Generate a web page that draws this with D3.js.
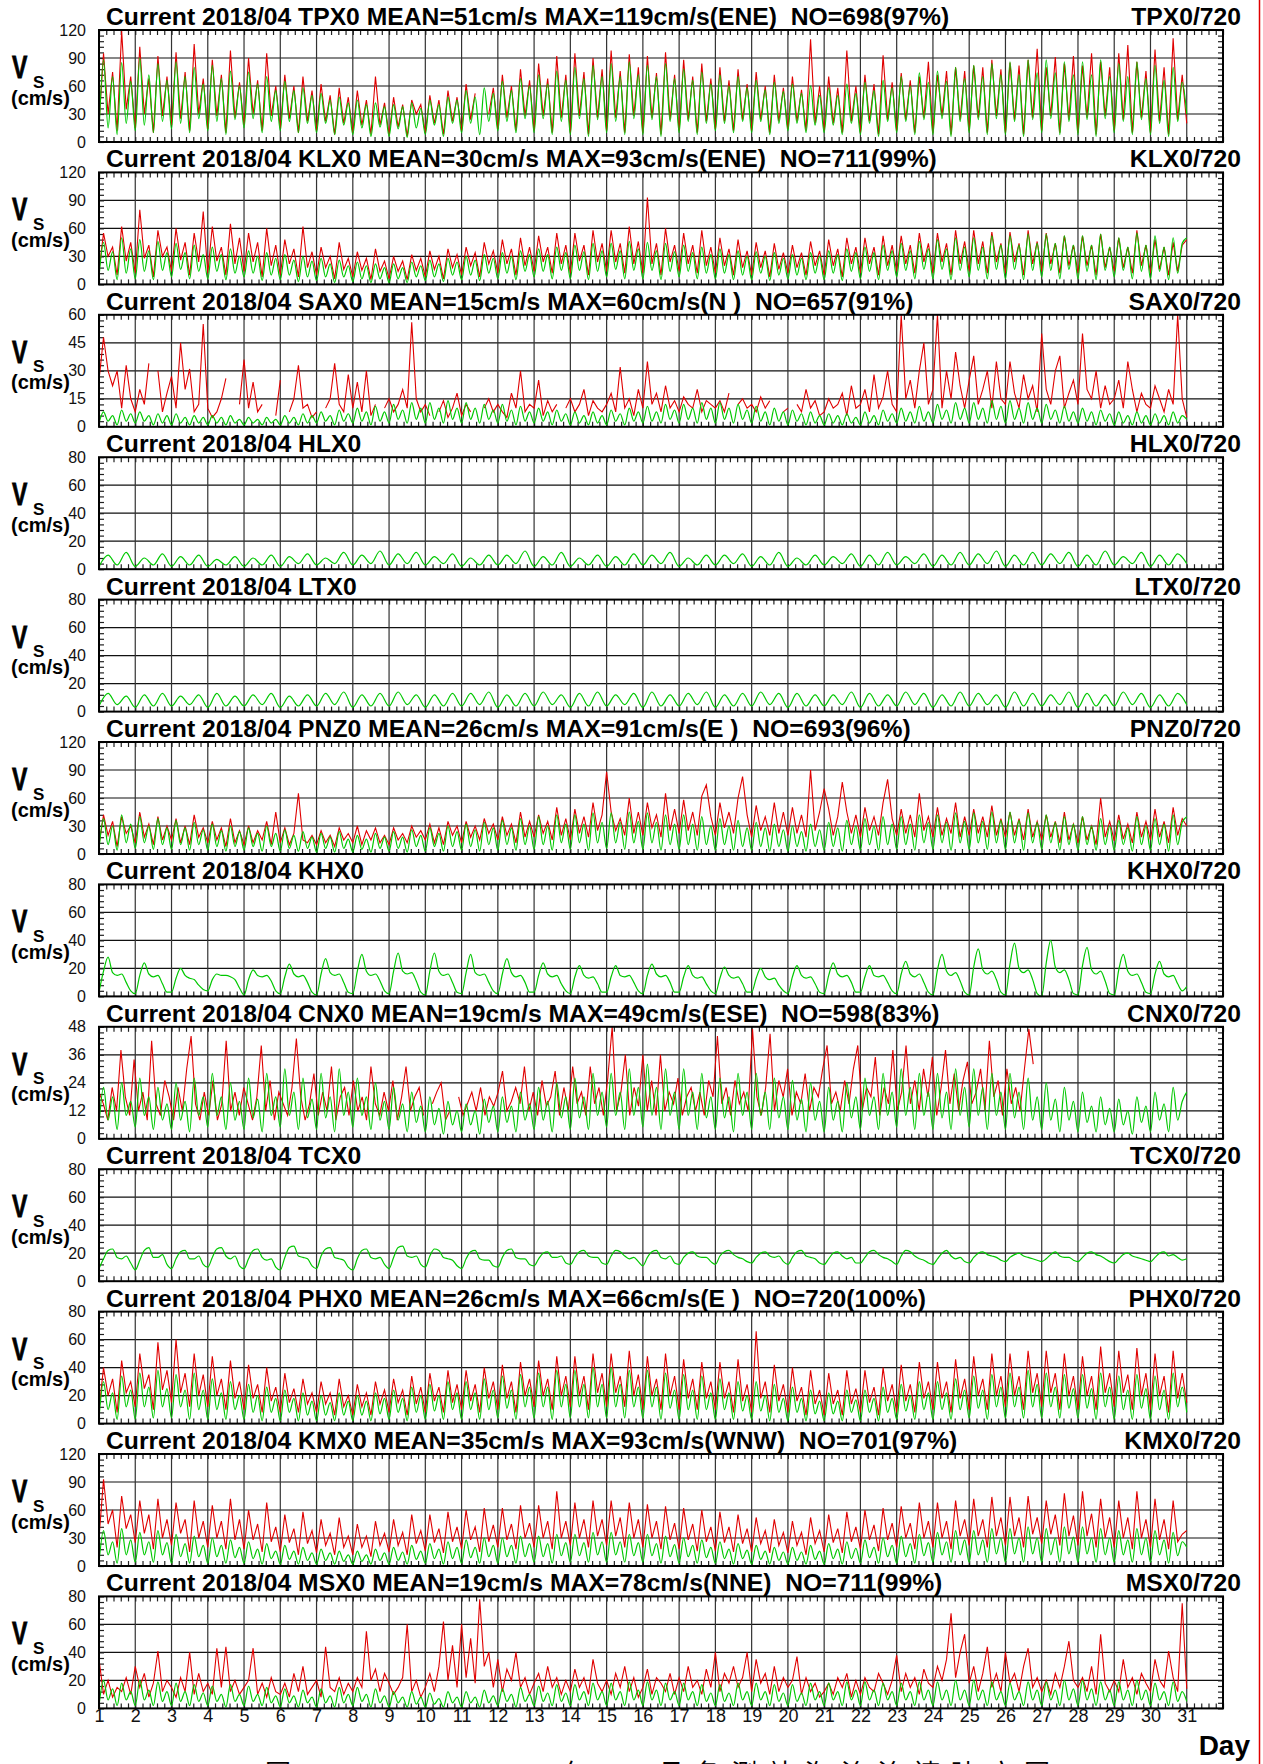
<!DOCTYPE html>
<html>
<head>
<meta charset="utf-8">
<script src="https://cdn.jsdelivr.net/npm/d3@7"></script>
<style>
  body { margin: 0; background: #fff; }
  svg { display: block; font-family: "Liberation Sans", Arial, sans-serif; }
</style>
</head>
<body>
<script>
// CURRENT SPEED TIME SERIES, 2018/04
var days = d3.range(1, 32);
var stations = ["TPX0", "KLX0", "SAX0", "HLX0", "LTX0", "PNZ0", "KHX0", "CNX0", "TCX0", "PHX0", "KMX0", "MSX0"];
var yMax = [120, 120, 60, 80, 80, 120, 80, 48, 80, 80, 120, 80];
var stats = [
  "MEAN=51cm/s MAX=119cm/s(ENE)  NO=698(97%)",
  "MEAN=30cm/s MAX=93cm/s(ENE)  NO=711(99%)",
  "MEAN=15cm/s MAX=60cm/s(N )  NO=657(91%)",
  "",
  "",
  "MEAN=26cm/s MAX=91cm/s(E )  NO=693(96%)",
  "",
  "MEAN=19cm/s MAX=49cm/s(ESE)  NO=598(83%)",
  "",
  "MEAN=26cm/s MAX=66cm/s(E )  NO=720(100%)",
  "MEAN=35cm/s MAX=93cm/s(WNW)  NO=701(97%)",
  "MEAN=19cm/s MAX=78cm/s(NNE)  NO=711(99%)"
];

// 3-hourly values from day 1 to day 31 (green = predicted, red = observed)
var tpxGreen = [
  10,88,15,70,8,85,20,65, 12,90,18,72,10,84,22,66, 14,86,20,70,10,80,25,62, 12,82,22,68,8,76,24,60,
  15,75,25,62,10,70,22,55, 12,65,22,55,10,58,20,50, 10,52,20,45,8,48,18,42, 8,45,15,40,6,42,16,38,
  6,40,14,38,5,42,15,36, 8,45,18,40,6,48,20,45, 10,55,20,48,8,58,22,52, 12,65,22,55,10,68,25,60,
  10,72,25,62,8,76,22,66, 8,80,25,68,6,82,24,70, 10,84,22,70,8,86,25,72, 8,82,24,70,6,84,22,68,
  10,78,22,66,8,75,20,62, 12,72,20,60,10,70,22,58, 10,66,22,56,8,64,20,54, 12,62,20,52,10,60,18,50,
  10,58,18,50,8,62,20,52, 8,64,20,55,6,66,22,58, 10,70,22,60,8,74,24,64, 8,76,25,65,6,80,22,68,
  10,82,24,70,8,84,25,72, 8,86,22,72,6,88,24,74, 10,88,25,74,8,86,22,72, 8,86,24,72,6,88,25,70,
  10,84,22,70,8,86,24,68, 8,82,20,66,6,80,22,64, 30];
var tpxRed = [
  20,95,30,75,12,119,35,70, 15,102,30,68,10,92,28,70, 18,96,25,75,12,105,30,68, 14,88,28,72,10,98,26,64,
  18,90,30,66,12,95,28,60, 15,72,25,60,10,70,22,55, 12,62,22,50,8,58,20,48, 10,55,18,45,8,70,18,42,
  8,48,16,40,6,45,30,40, 10,50,20,45,8,55,22,48, 12,62,24,52,null,null,30,58, 14,72,26,60,12,78,28,66,
  12,84,28,68,10,92,26,72, 10,95,28,75,8,90,26,78, 12,98,26,76,10,94,28,80, 10,92,26,74,8,96,24,72,
  12,88,24,70,10,84,22,68, 14,80,22,66,12,78,24,62, 12,75,24,60,10,72,22,58, 14,70,22,56,12,110,20,60,
  12,70,20,58,10,98,22,60, 10,72,22,62,8,93,24,64, 12,74,24,66,10,70,26,86, 10,72,28,76,8,80,24,76,
  12,82,26,80,10,88,28,78, 10,85,24,82,8,88,26,100, 12,80,28,91,10,84,24,92, 10,82,26,95,8,86,28,80,
  12,95,24,104,10,86,26,76, 10,99,22,80,8,111,24,72, 20];

var klxGreen = [
  8,45,15,35,5,50,12,38, 6,48,14,36,5,46,15,34, 8,44,16,34,6,42,14,32, 6,40,14,32,5,38,12,30,
  8,36,12,30,4,34,10,28, 5,32,10,26,3,30,8,25, 4,28,8,22,2,26,8,20, 3,24,6,20,2,22,6,18,
  2,22,6,18,2,24,8,20, 4,26,8,22,3,28,10,24, 5,30,10,26,4,32,12,28, 6,34,12,30,5,36,14,32,
  8,38,14,32,6,40,15,34, 6,42,15,35,5,44,14,36, 8,44,16,36,6,46,15,38, 6,45,15,36,5,44,14,35,
  8,42,14,34,6,40,12,32, 6,38,12,32,5,36,10,30, 5,35,12,30,4,34,10,28, 6,32,10,28,5,34,12,30,
  5,36,12,32,4,38,14,34, 6,40,14,34,5,42,15,36, 8,44,15,36,6,46,16,38, 6,48,16,38,5,50,15,40,
  8,50,15,40,6,52,16,42, 6,52,16,42,5,54,15,44, 8,54,15,44,6,52,16,42, 6,52,14,42,5,54,15,40,
  8,50,15,40,6,55,14,42, 6,52,14,40,5,50,12,44, 50];
var klxRed = [
  15,55,30,40,10,62,25,45, 12,80,28,42,8,58,30,40, 14,60,26,45,10,55,24,78, 12,62,25,40,10,65,22,50,
  14,55,24,45,8,60,20,42, 10,48,22,38,8,62,18,35, 10,40,18,30,6,45,16,28, 8,35,15,28,5,38,14,25,
  6,30,14,25,5,32,15,28, 8,36,16,30,6,38,18,32, 10,40,20,34,8,45,22,36, 12,48,22,38,10,50,20,40,
  14,52,24,40,12,55,22,42, 12,55,25,42,10,58,24,44, 14,58,24,44,12,62,22,46, 12,93,22,44,10,60,24,42,
  14,55,22,42,12,58,20,40, 12,50,20,38,10,48,18,36, 10,45,18,36,8,44,16,34, 12,42,18,34,10,46,20,36,
  10,48,20,38,8,50,22,40, 12,50,22,40,10,52,20,42, 14,52,22,42,12,55,24,44, 12,55,24,44,10,58,22,46,
  14,58,22,46,12,56,24,44, 12,56,24,44,10,58,22,46, 14,55,22,44,12,52,20,42, 12,52,20,42,10,54,18,40,
  14,50,18,40,12,58,20,42, 12,48,16,40,10,45,14,42, 48];

var saxGreen = [
  2,8,3,6,1,9,3,7, 2,8,3,6,1,7,2,6, 1,7,2,5,1,6,2,5, 1,6,2,5,1,6,2,4,
  1,5,2,4,1,5,2,4, 1,6,2,5,1,7,2,6, 2,8,3,6,1,9,3,7, 2,10,3,8,1,11,3,8,
  2,12,4,9,2,13,4,10, 2,13,4,10,2,14,4,10, 2,13,4,10,2,12,4,9, 2,12,3,9,1,11,3,8,
  2,10,3,8,1,9,3,7, 1,8,2,6,1,8,2,6, 1,9,3,7,1,10,3,8, 2,11,3,8,2,12,4,9,
  2,12,4,10,2,13,4,10, 2,13,4,10,2,12,4,9, 2,11,3,8,1,10,3,8, 1,9,3,7,1,8,2,6,
  1,7,2,6,1,7,2,5, 1,8,2,6,1,9,3,7, 2,10,3,8,2,11,3,8, 2,12,4,9,2,13,4,10,
  2,13,4,10,2,14,4,11, 2,14,4,10,2,13,4,10, 2,12,4,9,2,11,3,8, 2,10,3,8,1,9,3,7,
  1,8,2,6,1,8,2,6, 1,7,2,6,1,8,2,6, 4];
var saxRed = [
  25,48,30,22,30,10,33,15, 8,20,12,34,null,30,8,18, 27,10,45,20,31,8,12,55, 10,5,8,15,26,null,null,12,
  36,10,24,8,12,null,null,6, 25,null,8,15,33,10,12,5, 8,null,10,15,34,12,8,28, 10,24,8,30,6,12,null,10,
  15,8,12,20,10,56,15,8, 12,6,null,8,14,5,10,18, 6,12,8,null,null,10,15,8, 12,8,5,18,10,30,8,12,
  10,25,6,14,8,12,null,10, 15,8,12,20,6,14,10,8, 12,18,8,32,10,15,6,20, 10,35,12,18,8,22,10,14,
  8,16,12,10,20,8,14,12, 10,14,8,18,null,12,15,10, 12,8,16,10,14,null,null,8, 10,null,12,8,20,10,14,6,
  8,15,10,12,18,6,22,10, 12,20,8,28,10,16,30,12, 8,60,15,25,10,30,45,12, 20,60,10,30,15,40,22,10,
  25,38,12,20,30,10,35,15, 12,35,18,10,28,15,22,8, 50,20,12,30,38,10,18,25, 12,50,20,15,30,10,22,12,
  15,25,10,35,20,8,18,12, 10,22,15,8,20,12,60,15, 5];

// 6-hourly values
var hlxGreen = [
  2,10,3,12, 2,8,3,11, 2,9,3,10, 2,7,3,9, 2,8,3,10, 2,9,4,11, 3,8,4,12, 3,10,4,13,
  3,11,4,12, 3,9,4,11, 2,8,3,10, 3,10,4,13, 2,9,3,12, 2,8,3,10, 2,9,3,11, 3,10,4,12,
  2,8,3,10, 3,10,4,11, 2,9,3,12, 2,8,3,10, 3,9,4,11, 2,10,3,12, 3,9,4,11, 2,10,3,12,
  3,11,4,13, 2,10,3,12, 3,11,4,12, 2,10,3,13, 3,9,4,12, 2,10,3,11, 4];
var ltxGreen = [
  4,13,5,11, 3,12,4,13, 4,11,5,12, 3,13,4,11, 4,12,5,13, 3,11,4,12, 4,13,5,14, 3,12,4,13,
  4,14,5,12, 3,12,4,13, 4,13,5,14, 3,12,4,13, 4,14,5,12, 3,13,4,14, 4,12,5,13, 3,14,4,12,
  4,13,5,14, 3,12,4,13, 4,14,5,13, 3,13,4,12, 4,12,5,14, 3,13,4,12, 4,14,5,13, 3,12,4,14,
  4,13,5,12, 3,14,4,13, 4,12,5,14, 3,13,4,12, 4,14,5,13, 3,12,4,13, 5];

var pnzGreen = [
  5,38,10,30,4,42,12,32, 6,40,12,30,5,38,10,28, 5,36,10,28,4,34,10,26, 4,32,8,25,3,30,8,24,
  4,28,8,22,3,30,8,22, 3,26,6,20,3,24,6,18, 2,22,6,18,2,24,6,16, 2,20,5,16,2,22,6,18,
  3,24,6,18,2,26,8,20, 3,28,8,22,3,30,8,24, 4,32,8,26,3,34,10,28, 4,36,10,28,4,38,10,30,
  5,40,10,30,4,42,12,32, 5,42,12,32,4,44,12,34, 6,44,12,34,5,45,12,35, 5,44,12,34,4,42,10,32,
  5,42,10,32,4,40,10,30, 4,38,10,30,4,36,8,28, 4,34,8,28,3,32,8,26, 3,30,8,24,3,32,8,26,
  4,34,8,28,3,36,10,30, 4,38,10,30,4,40,10,32, 5,40,10,32,4,42,12,34, 5,42,12,34,4,44,12,35,
  5,44,12,35,5,45,12,36, 5,45,12,36,4,44,12,34, 5,42,12,34,4,40,10,32, 4,40,10,30,4,38,10,30,
  4,36,10,28,3,40,10,30, 4,38,10,32,3,42,10,34, 40];
var pnzRed = [
  10,42,20,35,8,40,22,30, 12,45,18,32,10,40,15,30, 15,38,12,30,10,42,18,28, 12,35,15,28,8,38,12,25,
  10,30,12,25,15,35,10,45, 12,28,10,22,65,15,12,20, 10,25,12,20,8,28,15,22, 12,30,10,25,15,28,12,20,
  10,28,15,22,12,30,18,25, 15,32,12,28,10,35,20,30, 12,35,18,30,15,38,22,32, 15,40,20,32,12,45,18,35,
  18,42,22,35,15,50,20,38, 15,48,22,40,18,55,25,42, 88,45,25,38,20,60,22,45, 20,55,28,42,18,65,25,48,
  22,58,25,45,20,62,74,40, 20,55,28,45,22,60,83,42, 18,52,25,40,20,55,22,45, 20,50,22,42,18,90,25,45,
  70,48,20,40,77,45,22,42, 18,50,25,40,20,55,80,38, 20,48,22,42,18,65,25,40, 18,50,20,38,22,55,18,40,
  20,48,22,40,18,52,20,38, 18,45,20,38,15,48,18,35, 15,42,18,35,12,45,15,32, 12,40,15,30,10,60,18,35,
  14,42,16,32,12,45,18,35, 15,48,18,35,12,50,20,38, 30];

var khxGreen = [
  3,18,28,17,15,16,10,4, 2,15,24,16,14,15,9,3, 3,13,20,15,13,12,8,5, 4,12,16,15,15,14,12,6,
  1,12,19,15,14,15,11,4, 2,14,23,16,14,15,10,3, 1,16,27,17,15,16,10,3, 2,18,30,18,15,16,11,4,
  2,18,31,18,16,17,11,3, 1,18,31,18,15,16,10,3, 2,17,30,17,15,16,10,4, 2,16,27,17,14,15,10,3,
  3,15,24,16,14,15,9,4, 2,14,22,15,13,14,9,3, 3,14,22,15,14,15,10,4, 2,15,23,16,14,15,10,3,
  3,14,22,15,13,14,9,4, 2,13,21,15,13,14,9,3, 3,13,20,14,12,13,8,4, 2,14,22,15,13,14,9,3,
  2,15,24,16,14,15,10,3, 3,14,22,15,14,15,10,4, 2,16,25,16,14,16,10,3, 1,19,30,18,15,17,11,3,
  1,21,34,19,16,18,12,3, 1,23,38,20,17,19,12,2, 0,24,40,21,17,19,12,2, 1,22,35,19,16,18,11,2,
  1,19,30,18,15,16,10,3, 2,16,25,16,14,15,9,4, 7];

var cnxGreen = [
  6,22,8,18,4,24,10,16, 5,26,10,18,4,22,8,15, 4,24,8,16,3,26,10,18, 5,28,10,18,4,24,8,16,
  4,26,9,17,3,28,10,18, 5,30,10,20,4,26,9,17, 4,28,9,18,3,30,10,20, 5,26,10,18,4,24,8,16,
  4,22,8,15,3,20,7,14, 3,18,6,13,2,16,6,12, 3,15,6,12,2,17,7,14, 3,18,7,14,3,20,8,15,
  4,22,8,16,3,24,9,18, 4,26,9,18,4,28,10,20, 5,28,10,20,4,30,10,22, 5,32,10,22,4,30,10,20,
  4,30,10,20,4,28,9,18, 4,26,9,18,3,28,10,20, 4,28,10,20,4,26,9,18, 4,25,8,17,3,24,8,16,
  3,22,8,16,3,24,9,18, 4,26,10,18,4,28,10,20, 5,30,10,22,4,28,10,20, 4,28,9,20,4,30,10,22,
  5,30,10,22,4,28,10,20, 4,28,9,20,4,26,8,18, 4,24,8,17,3,22,8,16, 3,20,7,14,3,18,6,13,
  3,17,6,12,2,18,7,14, 3,20,8,15,3,22,8,16, 20];
var cnxRed = [
  20,15,8,22,12,38,18,10, 34,12,20,8,42,15,10,25, 18,8,22,12,30,44,15,8, 20,10,25,8,15,42,12,20,
  10,22,15,8,18,40,12,25, 8,20,15,10,22,43,18,8, 15,28,10,20,12,31,8,18, 22,10,25,12,18,8,31,15,
  10,20,12,25,8,18,31,12, 18,22,10,null,15,20,24,8, 12,null,18,10,15,20,12,22, 10,18,14,20,29,12,16,22,
  15,31,12,20,10,25,14,18, 29,10,22,12,31,15,20,10, 31,15,22,10,26,48,12,20, 36,10,22,14,36,12,25,10,
  36,12,20,15,26,10,18,22, 12,20,10,25,18,44,15,22, 10,25,15,20,12,47,18,10, 22,45,12,25,18,30,10,20,
  15,28,12,22,18,30,40,15, 20,12,25,15,30,40,12,22, 18,35,10,22,15,38,12,20, 40,15,25,12,30,18,35,10,
  22,38,15,28,12,25,33,15, 20,30,12,42,18,25,10,30, 15,22,12,30,47,32,null,null,
  null,null,null,null,null,null,null,null, null,null,null,null,null,null,null,null,
  null,null,null,null,null,null,null,null, null,null,null,null,null,null,null,null, null];

var tcxGreen = [
  9,16,22,23,17,16,18,13, 8,15,22,24,17,17,19,12, 9,16,21,22,16,16,18,12, 10,17,23,24,18,16,18,11,
  9,16,22,23,17,15,16,10, 8,17,24,25,18,17,16,11, 9,18,23,24,17,16,15,10, 8,16,22,23,17,16,17,12,
  9,17,24,25,18,17,18,12, 10,18,23,22,17,16,15,11, 9,16,21,22,16,15,15,11, 10,17,22,23,17,16,16,12,
  11,16,20,21,17,17,18,13, 12,17,21,22,18,17,17,13, 12,18,22,21,18,16,17,14, 11,17,21,22,17,16,18,13,
  12,17,20,21,18,17,17,14, 12,18,21,22,19,17,16,14, 13,17,20,21,18,17,18,14, 12,17,21,22,18,17,16,13,
  12,16,20,21,18,16,17,13, 13,17,21,22,19,17,16,14, 12,18,22,21,18,16,15,13, 12,16,20,22,18,16,17,14,
  13,17,20,21,19,18,17,15, 14,17,19,20,18,17,16,15, 14,16,19,21,18,17,17,15, 14,17,20,21,19,18,16,14,
  13,16,19,20,18,17,16,15, 14,17,20,21,18,19,17,15, 16];

var phxGreen = [
  4,30,10,22,3,34,12,24, 3,36,12,26,4,38,12,25, 4,35,12,24,3,36,10,24, 3,32,10,22,3,30,10,20,
  3,28,8,20,2,26,8,18, 2,24,8,18,2,22,6,16, 2,20,6,15,2,22,6,16, 2,20,6,16,2,22,7,18,
  3,24,8,18,2,26,8,20, 3,28,9,20,3,30,10,22, 3,30,10,22,3,32,10,24, 4,34,11,24,3,35,12,26,
  4,36,12,26,3,38,12,28, 4,38,12,28,4,40,12,28, 4,40,12,28,4,38,12,26, 4,38,12,26,3,36,11,24,
  3,35,10,24,3,34,10,22, 3,32,10,22,3,30,9,20, 3,30,9,20,2,28,8,18, 2,26,8,18,2,24,7,16,
  2,22,7,16,2,24,8,17, 2,24,8,18,2,26,8,18, 3,28,9,20,3,30,10,22, 3,30,10,22,3,32,10,24,
  4,34,11,24,3,35,12,26, 4,36,12,26,4,38,12,28, 4,36,12,26,4,35,11,25, 4,35,11,25,3,36,12,26,
  3,34,10,24,3,35,11,25, 3,34,10,24,3,36,12,26, 8];
var phxRed = [
  10,40,20,32,8,45,22,30, 12,50,25,35,10,58,24,38, 15,60,22,36,12,50,20,35, 12,48,20,32,10,45,18,30,
  10,42,18,28,8,40,16,26, 8,36,15,25,8,32,14,22, 8,30,14,22,6,32,12,20, 6,28,12,22,6,30,14,24,
  8,32,15,24,6,34,14,26, 8,36,16,26,8,38,15,28, 10,38,16,28,8,40,18,30, 10,42,18,30,8,44,20,32,
  12,45,20,32,10,48,20,34, 12,48,20,34,10,50,22,36, 12,50,22,34,12,52,20,35, 10,48,20,32,10,50,20,34,
  10,46,18,32,10,44,18,30, 10,44,18,30,8,46,16,28, 8,66,18,30,8,42,16,28, 8,40,16,26,6,38,14,24,
  6,36,14,24,6,38,14,25, 8,38,15,26,6,40,16,28, 8,42,16,28,8,44,18,30, 10,44,18,30,8,46,18,32,
  10,48,20,32,10,50,20,34, 12,50,20,34,10,52,22,36, 12,52,22,36,10,50,20,34, 10,48,20,34,10,55,22,36,
  12,52,22,35,10,54,20,36, 10,50,20,34,8,52,18,36, 15];

var kmxGreen = [
  4,38,12,26,3,40,12,28, 4,36,12,26,4,38,12,25, 3,34,10,24,3,32,10,22, 3,30,10,22,3,28,9,20,
  3,26,8,18,2,24,8,16, 2,22,7,16,2,20,6,14, 2,18,6,14,2,16,5,12, 2,16,5,12,2,18,6,14,
  2,20,6,15,2,22,7,16, 3,24,8,18,2,26,8,20, 3,28,9,20,3,30,10,22, 3,30,10,22,3,32,10,24,
  4,32,10,24,3,34,11,25, 4,34,11,25,4,36,12,26, 4,36,12,26,4,34,11,25, 4,34,11,24,3,32,10,23,
  3,30,10,22,3,28,9,20, 3,26,8,18,2,24,8,17, 2,22,7,16,2,20,6,15, 2,20,6,15,2,22,7,16,
  2,24,8,18,2,26,8,19, 3,28,9,20,3,30,10,22, 3,32,10,24,3,34,11,25, 4,36,12,26,4,38,12,28,
  4,38,12,28,4,40,13,30, 4,40,13,30,4,42,13,30, 4,40,12,30,4,42,13,31, 4,42,13,30,4,40,12,30,
  4,38,12,28,4,40,12,30, 4,38,12,28,3,36,11,26, 20];
var kmxRed = [
  30,93,45,60,20,75,40,55, 25,70,35,55,18,72,30,50, 22,68,35,50,15,70,30,48, 20,65,30,48,18,72,28,50,
  18,60,28,45,15,68,26,42, 15,55,25,40,12,58,24,38, 14,50,22,35,12,52,20,32, 12,45,20,32,10,48,22,35,
  15,50,22,36,12,55,24,38, 16,55,25,40,14,58,26,42, 18,60,28,42,15,62,26,44, 20,62,28,45,18,65,30,46,
  20,65,30,48,18,80,30,48, 22,68,30,50,20,70,32,50, 22,70,32,52,20,68,30,50, 20,66,30,48,18,64,28,46,
  18,62,28,45,16,60,26,42, 16,58,25,42,15,55,24,40, 15,52,24,38,14,50,22,36, 14,48,22,36,12,52,24,38,
  15,55,25,40,14,58,26,42, 18,60,28,44,16,62,28,46, 20,64,30,46,18,68,30,48, 20,68,30,48,18,70,32,50,
  22,72,32,50,20,74,32,52, 22,74,32,52,20,75,34,52, 24,70,34,55,22,78,32,54, 22,80,32,56,20,72,30,52,
  20,70,30,52,18,80,30,50, 20,72,28,50,18,70,26,34, 38];

var msxGreen = [
  2,20,6,14,2,18,6,12, 2,20,6,13,2,19,5,12, 2,18,5,12,2,17,5,11, 2,16,5,10,1,17,5,10,
  2,16,5,10,2,15,4,9, 1,14,4,9,1,13,4,8, 1,14,4,9,1,15,4,10, 2,15,5,10,1,14,4,9,
  1,12,4,8,1,12,3,8, 1,11,3,7,1,12,4,8, 1,12,4,8,1,13,4,9, 2,14,5,10,1,15,5,10,
  2,16,5,11,2,17,5,11, 2,17,6,12,2,18,6,12, 2,18,6,12,2,19,6,13, 2,19,6,13,2,18,6,12,
  2,18,6,12,2,17,5,11, 2,17,5,11,2,18,6,12, 2,18,6,12,2,17,5,11, 2,17,5,11,2,18,6,12,
  2,18,6,12,2,19,6,13, 2,19,6,13,2,18,6,12, 2,18,6,12,2,19,6,13, 2,19,6,13,2,20,6,13,
  2,20,6,13,2,19,6,12, 2,18,6,12,2,19,6,13, 2,19,6,13,2,20,6,14, 2,20,6,14,2,19,6,13,
  2,19,6,13,2,20,6,13, 2,18,6,12,2,19,5,12, 5];
var msxRed = [
  35,10,20,8,15,12,22,10, 30,15,25,8,18,41,12,20, 15,8,22,12,40,10,25,12, 18,10,43,15,44,12,20,10,
  15,20,43,10,18,8,22,12, 10,18,8,25,12,30,10,15, 20,8,44,15,12,22,10,18, 12,22,15,55,20,28,12,25,
  18,10,15,22,60,12,20,8, 15,25,12,30,62,20,45,15, 60,22,50,18,78,30,40,15, 35,12,28,20,40,15,22,10,
  18,25,12,30,15,22,10,20, 12,28,15,22,10,35,18,12, 20,10,25,15,30,12,22,8, 15,28,10,22,18,12,25,10,
  22,12,30,15,20,10,28,15, 40,12,25,18,30,15,22,40, 12,35,18,25,10,30,12,22, 15,20,37,10,22,12,18,8,
  12,18,10,22,15,25,8,20, 10,22,15,12,25,18,10,20, 38,12,25,15,22,10,28,18, 15,30,20,35,68,22,40,53,
  18,30,12,25,44,15,25,12, 40,18,25,12,30,43,15,22, 12,20,10,25,15,30,48,20, 15,22,12,30,10,53,18,12,
  20,12,35,15,22,10,25,18, 12,35,20,15,41,22,12,75, 14];

var greenSeries = [tpxGreen, klxGreen, saxGreen, hlxGreen, ltxGreen, pnzGreen, khxGreen, cnxGreen, tcxGreen, phxGreen, kmxGreen, msxGreen];
var redSeries = [tpxRed, klxRed, saxRed, null, null, pnzRed, null, cnxRed, null, phxRed, kmxRed, msxRed];

var W = 1263, H = 1764;
var left = 99, right = 1223, plotH = 112, pitch = 142.4, top0 = 30;

var svg = d3.select("body").append("svg").attr("width", W).attr("height", H);
var x = d3.scaleLinear().domain([1, 32]).range([left, right]);
var minorX = d3.range(1, 32.001, 0.2);

// Put the series on a time axis from day 1 to day 31
function toPoints(arr) {
  var n = arr.length;
  return arr.map(function(v, i) { return [1 + i * 30 / (n - 1), v]; });
}

stations.forEach(function(st, i) {
  var top = top0 + i * pitch;
  var g = svg.append("g").attr("transform", "translate(0," + top + ")");
  var y = d3.scaleLinear().domain([0, yMax[i]]).range([plotH, 0]);
  var major = d3.range(0, yMax[i] + 0.01, yMax[i] / 4);
  var minor = d3.range(0, yMax[i] + 0.01, yMax[i] / 20);

  g.append("clipPath").attr("id", "clip" + i)
    .append("rect").attr("x", left).attr("y", 0).attr("width", right - left).attr("height", plotH);

  // grid
  g.selectAll(".hg").data(major.slice(1, -1)).enter().append("line")
    .attr("x1", left).attr("x2", right)
    .attr("y1", function(d) { return y(d); }).attr("y2", function(d) { return y(d); })
    .attr("stroke", "#111").attr("stroke-width", 1.2);
  g.selectAll(".vg").data(days.slice(1)).enter().append("line")
    .attr("x1", function(d) { return x(d); }).attr("x2", function(d) { return x(d); })
    .attr("y1", 0).attr("y2", plotH)
    .attr("stroke", "#333").attr("stroke-width", 1.2);

  // minor ticks, pointing inward on all four sides
  g.append("g").attr("transform", "translate(" + left + ",0)")
    .call(d3.axisRight(y).tickValues(minor).tickSize(5).tickFormat(""));
  g.append("g").attr("transform", "translate(" + right + ",0)")
    .call(d3.axisLeft(y).tickValues(minor).tickSize(5).tickFormat(""));
  g.append("g").attr("transform", "translate(0,0)")
    .call(d3.axisBottom(x).tickValues(minorX).tickSize(5).tickFormat(""));
  g.append("g").attr("transform", "translate(0," + plotH + ")")
    .call(d3.axisTop(x).tickValues(minorX).tickSize(5).tickFormat(""));
  g.selectAll(".domain").remove();
  g.selectAll(".tick line").attr("stroke", "#222").attr("stroke-width", 1.2);

  // y labels
  var ya = g.append("g").attr("transform", "translate(" + left + ",0)")
    .call(d3.axisLeft(y).tickValues(major).tickSize(0).tickPadding(13));
  ya.select(".domain").remove();
  ya.selectAll("text").attr("font-size", 16).attr("fill", "#111")
    .attr("font-family", "'Liberation Sans', Arial, sans-serif");

  // lines
  var lineG = d3.line().curve(d3.curveMonotoneX)
    .x(function(d) { return x(d[0]); }).y(function(d) { return y(d[1]); });
  var lineR = d3.line().defined(function(d) { return d[1] != null; })
    .x(function(d) { return x(d[0]); }).y(function(d) { return y(d[1]); });
  var lines = g.append("g").attr("clip-path", "url(#clip" + i + ")");
  if (redSeries[i]) {
    lines.append("path").datum(toPoints(redSeries[i])).attr("d", lineR)
      .attr("fill", "none").attr("stroke", "#e00000").attr("stroke-width", 1.1);
  }
  lines.append("path").datum(toPoints(greenSeries[i])).attr("d", lineG)
    .attr("fill", "none").attr("stroke", "#00c800").attr("stroke-width", 1.2);

  // frame
  g.append("rect").attr("x", left).attr("y", 0).attr("width", right - left).attr("height", plotH)
    .attr("fill", "none").attr("stroke", "#000").attr("stroke-width", 2);

  // header
  g.append("text").attr("x", 106).attr("y", -5)
    .attr("font-size", 24.7).attr("font-weight", "bold").style("white-space", "pre")
    .text("Current 2018/04 " + st + (stats[i] ? " " + stats[i] : ""));
  g.append("text").attr("x", 1241).attr("y", -5).attr("text-anchor", "end")
    .attr("font-size", 24.7).attr("font-weight", "bold")
    .text(st + "/720");

  // Vs (cm/s)
  g.append("text").attr("transform", "translate(12,48) scale(0.72,1)")
    .attr("font-size", 32).attr("font-weight", "bold")
    .attr("stroke", "#000").attr("stroke-width", 0.8).text("V");
  g.append("text").attr("x", 33).attr("y", 57.5)
    .attr("font-size", 17).attr("font-weight", "bold").text("S");
  g.append("text").attr("x", 11).attr("y", 74.5)
    .attr("font-size", 20).attr("font-weight", "bold").text("(cm/s)");

  // x labels under the last panel
  if (i === stations.length - 1) {
    var xa = g.append("g").attr("transform", "translate(0," + plotH + ")")
      .call(d3.axisBottom(x).tickValues(days).tickSize(0).tickPadding(1));
    xa.select(".domain").remove();
    xa.selectAll("text").attr("font-size", 18).attr("fill", "#111")
      .attr("font-family", "'Liberation Sans', Arial, sans-serif");
  }
});

svg.append("text").attr("x", 1250).attr("y", 1755).attr("text-anchor", "end")
  .attr("font-size", 28).attr("font-weight", "bold").text("Day");

// caption, mostly below the picture edge
svg.append("text").attr("x", 265).attr("y", 1783)
  .attr("font-family", "'Noto Sans CJK TC', sans-serif").attr("font-size", 26)
  .attr("textLength", 785).attr("lengthAdjust", "spacing")
  .text("圖 3.1-1   2018 年 4 月各測站海流流速時序圖");

svg.append("line").attr("x1", 1259.5).attr("x2", 1259.5).attr("y1", 0).attr("y2", H)
  .attr("stroke", "#e00000").attr("stroke-width", 1.5);
</script>
</body>
</html>
